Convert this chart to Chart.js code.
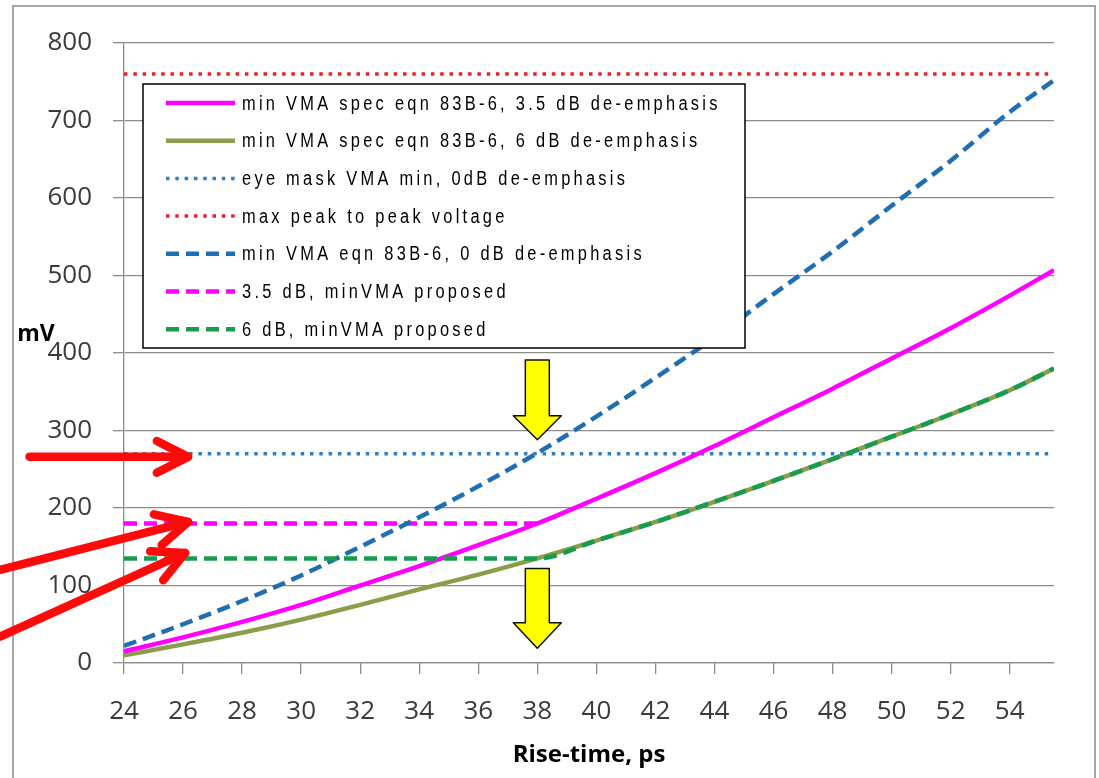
<!DOCTYPE html>
<html>
<head>
<meta charset="utf-8">
<script src="https://cdn.jsdelivr.net/npm/chart.js@4.4.0/dist/chart.umd.min.js"></script>
<style>
  html, body { margin: 0; padding: 0; background: #fff; overflow: hidden; }
  #frame { position: absolute; left: 12px; top: 5px; width: 1080px; height: 800px; border: 2px solid #a6a6a6; }
  #wrap { position: absolute; left: 0; top: 0; width: 1099px; height: 778px; }
</style>
</head>
<body>
<div id="frame"></div>
<div id="wrap"><canvas id="chart"></canvas></div>
<script>
// rise time (ps) sample points
const riseTimes = [24, 26, 28, 30, 32, 34, 36, 38, 40, 42, 44, 46, 48, 50, 52, 54, 55.5];
// min VMA from eqn 83B-6 (mV)
const vma35dB = [15, 33, 53, 75, 100, 125, 152, 180, 212, 245, 280, 317, 354, 393, 432, 474, 507];
const vma6dB = [10, 24, 39, 56, 75, 95, 114, 135, 158, 182, 208, 235, 263, 292, 321, 352, 380];
const vma0dB = [22, 50, 80, 113, 150, 188, 228, 271, 318, 368, 420, 476, 531, 590, 648, 711, 752];

// horizontal limits
const spanX = [24, 55.5];
const eyeMaskMin = [270, 270];
const maxPeakToPeak = [760, 760];

// proposed minVMA
const proposed35X = [24, 38];
const proposed35 = [180, 180];
const proposed6X = [24, 38, 40, 42, 44, 46, 48, 50, 52, 54, 55.5];
const proposed6 = [135, 135, 158, 182, 208, 235, 263, 292, 321, 352, 380];

const xTicks = [24, 26, 28, 30, 32, 34, 36, 38, 40, 42, 44, 46, 48, 50, 52, 54];

// annotation arrows, in data units
const redArrowTails = [[20.8, 266], [19.8, 120], [19.8, 34]];
const redArrowTips = [[26.17, 266], [26.17, 182], [26.07, 142]];
const yellowArrowX = [38, 38];
const yellowArrowTop = [391, 122];
const yellowArrowHead = [319, 52];
const yellowArrowTip = [288, 19];

function points(xs, ys) {
  return xs.map((x, i) => ({ x, y: ys[i] }));
}

const gridColor = "#8c8c8c";

const boxLegend = {
  id: "boxLegend",
  afterDatasetsDraw(chart, _args, opts) {
    const { ctx, chartArea } = chart;
    const x0 = chartArea.left + opts.offsetX;
    const y0 = chartArea.top + opts.offsetY;
    ctx.save();
    ctx.fillStyle = "#fff";
    ctx.fillRect(x0, y0, opts.width, opts.height);
    ctx.strokeStyle = "#000";
    ctx.lineWidth = 1.5;
    ctx.setLineDash([]);
    ctx.strokeRect(x0, y0, opts.width, opts.height);

    chart.data.datasets.forEach((ds, i) => {
      const y = y0 + opts.firstRow + i * opts.rowGap;
      ctx.save();
      ctx.strokeStyle = ds.borderColor;
      ctx.lineWidth = ds.borderWidth;
      ctx.setLineDash(ds.borderDash || []);
      ctx.beginPath();
      ctx.moveTo(x0 + 23, y);
      ctx.lineTo(x0 + 92, y);
      ctx.stroke();
      ctx.restore();

      // condensed text: squeeze glyphs, keep wide tracking
      ctx.save();
      ctx.translate(x0 + 99, y + 1);
      ctx.scale(opts.squeeze, 1);
      ctx.font = opts.font;
      ctx.letterSpacing = opts.letterSpacing;
      ctx.textBaseline = "middle";
      ctx.fillStyle = "#000";
      ctx.fillText(ds.label, 0, 0);
      ctx.restore();
    });
    ctx.restore();
  },
};

const arrows = {
  id: "arrows",
  afterDraw(chart) {
    const { ctx, scales } = chart;
    const xs = scales.x;
    const ys = scales.y;
    ctx.save();

    // axis title "mV", horizontal
    ctx.font = "bold 23px 'Open Sans', sans-serif";
    ctx.fillStyle = "#000";
    ctx.textAlign = "center";
    ctx.textBaseline = "middle";
    ctx.fillText("mV", chart.chartArea.left - 88, ys.getPixelForValue(424));

    // red arrows
    ctx.strokeStyle = "#ff0a0a";
    ctx.lineWidth = 8.5;
    ctx.lineCap = "round";
    ctx.lineJoin = "round";
    redArrowTails.forEach((tail, i) => {
      const tip = redArrowTips[i];
      const tx = xs.getPixelForValue(tail[0]);
      const ty = ys.getPixelForValue(tail[1]);
      const hx = xs.getPixelForValue(tip[0]);
      const hy = ys.getPixelForValue(tip[1]);
      const ang = Math.atan2(hy - ty, hx - tx);
      ctx.beginPath();
      ctx.moveTo(tx, ty);
      ctx.lineTo(hx, hy);
      ctx.stroke();
      ctx.beginPath();
      ctx.moveTo(hx - 35 * Math.cos(ang - 0.47), hy - 35 * Math.sin(ang - 0.47));
      ctx.lineTo(hx, hy);
      ctx.lineTo(hx - 35 * Math.cos(ang + 0.47), hy - 35 * Math.sin(ang + 0.47));
      ctx.stroke();
    });

    // yellow block arrows
    ctx.fillStyle = "#ffff00";
    ctx.strokeStyle = "#111";
    ctx.lineWidth = 1.5;
    yellowArrowX.forEach((xv, i) => {
      const cx = xs.getPixelForValue(xv);
      const top = ys.getPixelForValue(yellowArrowTop[i]);
      const head = ys.getPixelForValue(yellowArrowHead[i]);
      const tip = ys.getPixelForValue(yellowArrowTip[i]);
      ctx.beginPath();
      ctx.moveTo(cx - 12, top);
      ctx.lineTo(cx + 12, top);
      ctx.lineTo(cx + 12, head);
      ctx.lineTo(cx + 24, head);
      ctx.lineTo(cx, tip);
      ctx.lineTo(cx - 24, head);
      ctx.lineTo(cx - 12, head);
      ctx.closePath();
      ctx.fill();
      ctx.stroke();
    });
    ctx.restore();
  },
};

Chart.defaults.font.family = "'Open Sans', sans-serif";

new Chart(document.getElementById("chart"), {
  type: "line",
  data: {
    datasets: [
      {
        label: "min VMA spec eqn 83B-6, 3.5 dB de-emphasis",
        data: points(riseTimes, vma35dB),
        borderColor: "#ff00ff",
        borderWidth: 4.5,
        order: 1,
      },
      {
        label: "min VMA spec eqn 83B-6, 6 dB de-emphasis",
        data: points(riseTimes, vma6dB),
        borderColor: "#8b9c4a",
        borderWidth: 4.5,
        order: 2,
      },
      {
        label: "eye mask VMA min, 0dB de-emphasis",
        data: points(spanX, eyeMaskMin),
        borderColor: "#2f7fbf",
        borderWidth: 3.5,
        borderDash: [3.5, 5.8],
        order: 1,
      },
      {
        label: "max peak to peak voltage",
        data: points(spanX, maxPeakToPeak),
        borderColor: "#e8202a",
        borderWidth: 3.5,
        borderDash: [3.5, 5.8],
        order: 1,
      },
      {
        label: "min VMA eqn 83B-6, 0 dB de-emphasis",
        data: points(riseTimes, vma0dB),
        borderColor: "#1f6fb0",
        borderWidth: 4.5,
        borderDash: [13, 7],
        order: 1,
      },
      {
        label: "3.5 dB, minVMA proposed",
        data: points(proposed35X, proposed35),
        borderColor: "#ff00ff",
        borderWidth: 4.5,
        borderDash: [13, 7],
        order: 1,
      },
      {
        label: "6 dB, minVMA proposed",
        data: points(proposed6X, proposed6),
        borderColor: "#169c4e",
        borderWidth: 4.5,
        borderDash: [13, 7],
        order: 0,
      },
    ],
  },
  options: {
    responsive: true,
    maintainAspectRatio: false,
    animation: false,
    events: [],
    layout: {
      padding: { left: 0, top: 43, right: 45, bottom: 0 },
    },
    elements: {
      point: { radius: 0 },
      line: { fill: false, cubicInterpolationMode: "monotone", borderCapStyle: "butt" },
    },
    plugins: {
      legend: { display: false },
      tooltip: { enabled: false },
      boxLegend: {
        offsetX: 19,
        offsetY: 41,
        width: 602,
        height: 264,
        firstRow: 19,
        rowGap: 37.7,
        squeeze: 0.82,
        font: "20px 'Liberation Sans', sans-serif",
        letterSpacing: "4px",
      },
    },
    scales: {
      x: {
        type: "linear",
        min: 24,
        max: 55.5,
        afterFit(scale) {
          scale.height = 115;
        },
        afterBuildTicks(scale) {
          scale.ticks = xTicks.map((value) => ({ value }));
        },
        ticks: {
          color: "#3a3a3a",
          font: { size: 26 },
          padding: 22,
          maxRotation: 0,
          autoSkip: false,
        },
        grid: {
          drawOnChartArea: false,
          color: gridColor,
          tickLength: 11,
          lineWidth: 1.3,
        },
        border: { color: gridColor, width: 1.3 },
        title: {
          display: true,
          text: "Rise-time, ps",
          color: "#000",
          font: { size: 24, weight: "bold" },
          padding: { top: 0, bottom: 8 },
        },
      },
      y: {
        min: 0,
        max: 800,
        afterFit(scale) {
          scale.width = 124;
        },
        ticks: {
          stepSize: 100,
          color: "#3a3a3a",
          font: { size: 26 },
          padding: 21,
        },
        grid: {
          color: gridColor,
          tickLength: 11,
          lineWidth: 1.3,
        },
        border: { color: gridColor, width: 1.3 },
      },
    },
  },
  plugins: [boxLegend, arrows],
});
</script>
</body>
</html>
